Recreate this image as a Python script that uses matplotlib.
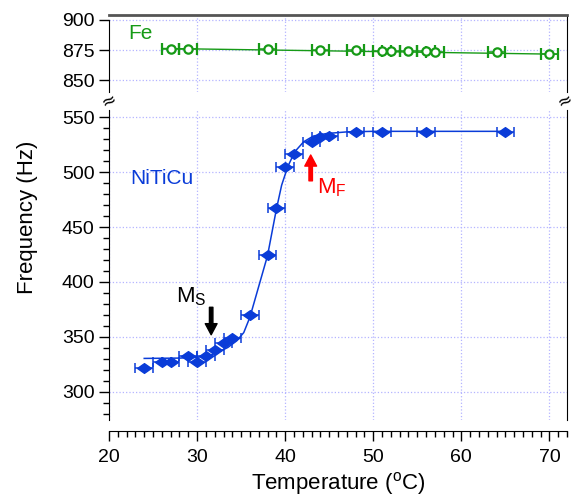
import matplotlib
matplotlib.use("Agg")
from matplotlib import pyplot as plt
from matplotlib.ticker import MultipleLocator

# Fe reference sample (open circles, top panel)
fe_temp = [27, 29, 38, 44, 48, 51, 52, 54, 56, 57, 64, 70]
fe_freq = [876.2, 876.2, 876.0, 875.3, 875.2, 874.5, 874.5, 874.4, 874.3, 873.2, 873.0, 872.0]
fe_fit_temp = [26, 71]
fe_fit_freq = [876.3, 871.5]

# NiTiCu sample (filled diamonds, bottom panel)
niticu_temp = [24, 26, 27, 29, 30, 31, 32, 33, 34, 36, 38, 39, 40, 41, 43, 44, 45, 48, 51, 56, 65]
niticu_freq = [322.1, 327.3, 327.3, 333.0, 327.3, 332.7, 338.2, 344.3, 349.4, 370.0,
               424.5, 467.0, 505.0, 516.0, 527.0, 532.0, 532.5, 536.6, 536.6, 536.6, 536.6]
temp_err = 1.0

# fitted curve
fit_temp = [24, 28, 30, 31.5, 32.5, 33.5, 34.5, 35.3, 36, 37, 38, 39, 39.6, 40.3,
            41.1, 42.1, 43.2, 44.7, 47, 50, 65]
fit_freq = [330.5, 330.8, 331.5, 333.5, 336.5, 340.5, 346.5, 354, 368, 396, 424, 466,
            488, 505, 518.5, 527.5, 532.7, 535, 536.5, 537, 537]

blue = '#0a3cd8'
green = '#169a16'
grid_col = '#b4b4ff'

plt.rcParams['font.family'] = ['Liberation Sans', 'DejaVu Sans']
plt.rcParams['mathtext.default'] = 'regular'

fig = plt.figure(figsize=(5.74, 4.98), dpi=100)
left, right = 109 / 574, 567 / 574
ax_top = fig.add_axes([left, 1 - 92 / 498, right - left, 77 / 498])
ax = fig.add_axes([left, 1 - 420 / 498, right - left, 310 / 498])

# top panel: Fe
ax_top.errorbar(fe_temp, fe_freq, xerr=temp_err, fmt='o', color=green, mfc='white',
                ms=6, mew=1.6, elinewidth=1.1, capsize=4, capthick=1.1, zorder=3)
ax_top.plot(fe_fit_temp, fe_fit_freq, color=green, lw=1, zorder=2)
ax_top.set_xlim(20, 72)
ax_top.set_ylim(840.1, 904.1)
ax_top.set_yticks([850, 875, 900])
ax_top.set_xticks([30, 40, 50, 60, 70])
ax_top.tick_params(axis='x', length=0, labelbottom=False)
ax_top.tick_params(axis='y', direction='out', length=7, width=1, labelsize=14)
ax_top.grid(True, color=grid_col, ls=':', lw=0.9)
ax_top.spines['bottom'].set_visible(False)
ax_top.spines['left'].set_bounds(840.1, 900)
ax_top.spines['top'].set_color('#555555')
ax_top.spines['top'].set_linewidth(2)
ax_top.text(22.2, 889, 'Fe', color=green, fontsize=15, va='center')

# bottom panel: NiTiCu
ax.plot(fit_temp, fit_freq, color=blue, lw=1.1, zorder=2)
diamond = [(-1, 0), (0, 0.7), (1, 0), (0, -0.7), (-1, 0)]
ax.errorbar(niticu_temp, niticu_freq, xerr=temp_err, fmt='none', ecolor=blue,
            elinewidth=1.1, capsize=3.5, capthick=1.1, zorder=3)
ax.plot(niticu_temp, niticu_freq, ls='none', marker=diamond, ms=10, color=blue, zorder=4)
ax.set_xlim(20, 72)
ax.set_ylim(274.5, 556.4)
ax.xaxis.set_major_locator(MultipleLocator(10))
ax.xaxis.set_minor_locator(MultipleLocator(1))
ax.yaxis.set_major_locator(MultipleLocator(50))
ax.yaxis.set_minor_locator(MultipleLocator(10))
ax.tick_params(which='major', direction='out', length=7, width=1, labelsize=14)
ax.tick_params(which='minor', direction='out', length=4, width=1)
ax.tick_params(axis='x', which='both', pad=6)
ax.grid(True, color=grid_col, ls=':', lw=0.9)
ax.spines['top'].set_visible(False)
ax.spines['bottom'].set_position(('outward', 8))
ax.text(22.4, 494.5, 'NiTiCu', color=blue, fontsize=15, va='center')

# transformation markers
ax.annotate('', xy=(31.6, 352), xytext=(31.6, 377),
            arrowprops=dict(facecolor='black', edgecolor='black', width=2.5,
                            headwidth=8.5, headlength=8))
ax.text(29.3, 376, '$M_S$', fontsize=16, ha='center', va='bottom')
ax.annotate('', xy=(42.9, 515.5), xytext=(42.9, 492),
            arrowprops=dict(facecolor='red', edgecolor='red', width=2.5,
                            headwidth=8.5, headlength=8))
ax.text(43.6, 481, '$M_F$', color='red', fontsize=16, ha='left', va='baseline')

ax.set_xlabel('Temperature ($^o$C)', fontsize=16, labelpad=3)
fig.text(28 / 574, 1 - 217 / 498, 'Frequency (Hz)', fontsize=16, rotation=90,
         ha='center', va='center')

# axis break marks
for xb in (left, right - 0.004):
    fig.text(xb, 1 - 101 / 498, '≈', fontsize=13, rotation=25, ha='center', va='center',
             family='DejaVu Sans')

fig.savefig('out.png', dpi=100)
